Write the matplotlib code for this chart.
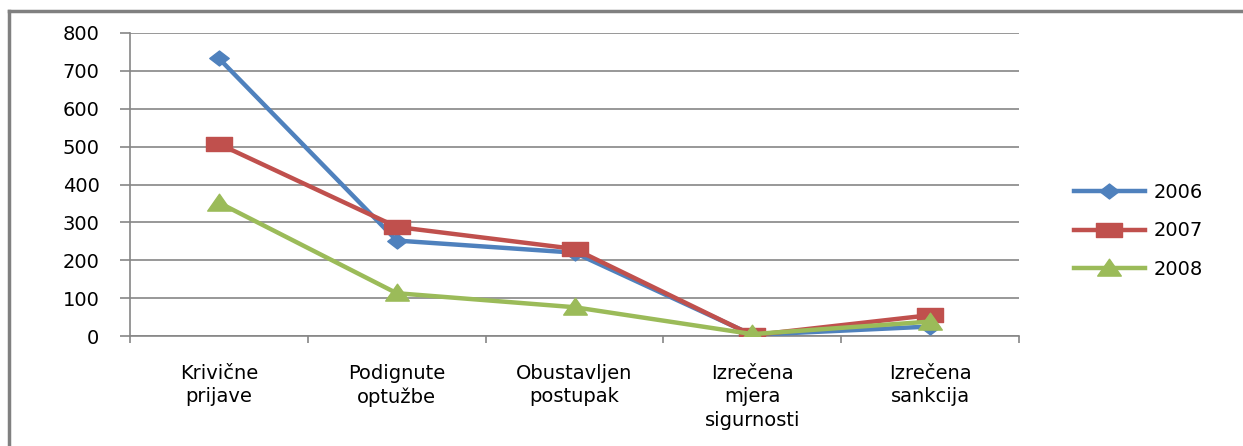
import matplotlib.pyplot as plt
import numpy as np
from matplotlib.path import Path
from matplotlib.lines import Line2D

categories = ["Krivične\nprijave", "Podignute\noptužbe", "Obustavljen\npostupak",
              "Izrečena\nmjera\nsigurnosti", "Izrečena\nsankcija"]
y2006 = [733, 252, 220, 3, 25]
y2007 = [507, 288, 230, 2, 55]
y2008 = [352, 113, 76, 5, 38]
years = ["2006", "2007", "2008"]

colors = ["#4F81BD", "#C0504D", "#9BBB59"]

# stretched markers, like the Excel picture
diamond = Path([(-1.3, 0), (0, -1), (1.3, 0), (0, 1), (-1.3, 0)], closed=True)
rect = Path([(-1.8, -1), (1.8, -1), (1.8, 1), (-1.8, 1), (-1.8, -1)], closed=True)
tri = Path([(-1.4, -0.9), (1.4, -0.9), (0, 1.1), (-1.4, -0.9)], closed=True)
markers = [diamond, rect, tri]
msizes = [14, 19, 17]

fig = plt.figure(figsize=(12.43, 4.46), dpi=100)
W, H = 1243, 446
ax = fig.add_axes([130 / W, 1 - 336 / H, (1019 - 130) / W, (336 - 33) / H])

x = np.arange(len(categories))
for vals, c, m, ms, lab in zip([y2006, y2007, y2008], colors, markers, msizes, years):
    ax.plot(x, vals, color=c, lw=3.2, marker=m, ms=ms, label=lab, zorder=3)

ax.set_xlim(-0.5, len(categories) - 0.5)
ax.set_ylim(0, 800)
ax.set_yticks(range(0, 801, 100))
ax.grid(axis="y", color="#868686", lw=1.2)
ax.set_axisbelow(True)
for s in ["top", "right"]:
    ax.spines[s].set_visible(False)
ax.spines["left"].set_color("#868686")
ax.spines["bottom"].set_color("#868686")
ax.spines["left"].set_linewidth(1.2)
ax.spines["bottom"].set_linewidth(1.2)

ax.set_xticks(x)
ax.set_xticklabels(categories, fontsize=14, family="DejaVu Sans", linespacing=1.3)
ax.set_xticks(np.arange(-0.5, len(categories)), minor=True)
ax.tick_params(axis="x", which="major", length=0, pad=20)
ax.tick_params(axis="x", which="minor", length=5, color="#868686", width=1.2)
ax.tick_params(axis="y", length=7, color="#868686", width=1.2, labelsize=14, pad=15)
for t in ax.get_xticklabels():
    t.set_verticalalignment("top")

ax.legend(loc="center left", bbox_to_anchor=(1056 / W, 1 - 231 / H),
          bbox_transform=fig.transFigure, frameon=False, fontsize=14,
          handlelength=3.7, labelspacing=1.0, handletextpad=0.4)

# frame of the pasted picture (left and top edges visible)
fig.add_artist(Line2D([9 / W, 9 / W], [0, 1 - 11 / H], color="#808080", lw=2.5))
fig.add_artist(Line2D([9 / W, 1], [1 - 11 / H, 1 - 11 / H], color="#808080", lw=2.5))

fig.savefig("out.png", dpi=100)
